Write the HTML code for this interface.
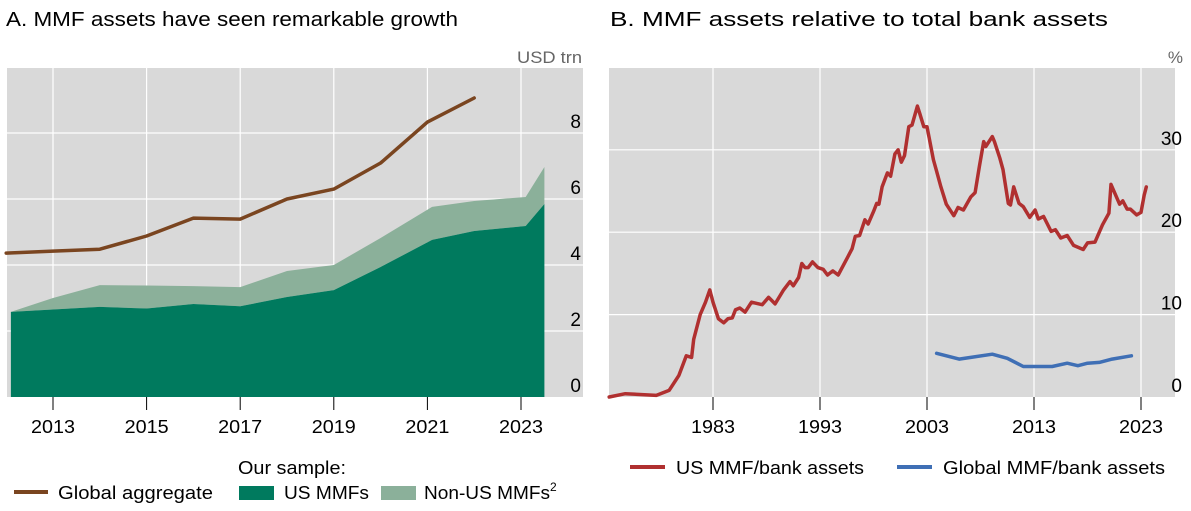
<!DOCTYPE html>
<html><head><meta charset="utf-8"><style>
body{margin:0;background:#fff;width:1191px;height:511px;overflow:hidden}
svg{display:block;font-family:"Liberation Sans","DejaVu Sans",sans-serif}
</style></head><body>
<svg id="c" width="1191" height="511" viewBox="0 0 1191 511">
<text x="6" y="26" font-size="20" textLength="452" lengthAdjust="spacingAndGlyphs" fill="#000">A. MMF assets have seen remarkable growth</text>
<text x="610" y="26" font-size="20" textLength="498" lengthAdjust="spacingAndGlyphs" fill="#000">B. MMF assets relative to total bank assets</text>
<text x="517" y="63" font-size="17" textLength="65" lengthAdjust="spacingAndGlyphs" fill="#666">USD trn</text>
<text x="1183" y="63" font-size="17" fill="#666" text-anchor="end">%</text>
<rect x="7" y="68" width="576" height="329" fill="#d9d9d9"/>
<rect x="609" y="68" width="566" height="329" fill="#d9d9d9"/>
<g id="ga"></g><g id="gb"></g>
<text x="238" y="474" font-size="18" textLength="108" lengthAdjust="spacingAndGlyphs">Our sample:</text>
<line x1="14" y1="492" x2="48" y2="492" stroke="#7a4520" stroke-width="4"/>
<text x="58" y="499" font-size="18" textLength="155" lengthAdjust="spacingAndGlyphs">Global aggregate</text>
<rect x="239" y="486" width="35" height="14" fill="#007a5e"/>
<text x="284" y="499" font-size="18" textLength="85" lengthAdjust="spacingAndGlyphs">US MMFs</text>
<rect x="381" y="486" width="35" height="14" fill="#8bb09a"/>
<text x="424" y="499" font-size="18"><tspan textLength="126" lengthAdjust="spacingAndGlyphs">Non-US MMFs</tspan><tspan font-size="12" dy="-8">2</tspan></text>
<line x1="630" y1="467" x2="665" y2="467" stroke="#b03030" stroke-width="4"/>
<text x="676" y="474" font-size="18" textLength="188" lengthAdjust="spacingAndGlyphs">US MMF/bank assets</text>
<line x1="897" y1="467" x2="932" y2="467" stroke="#3f6fb5" stroke-width="4"/>
<text x="943" y="474" font-size="18" textLength="222" lengthAdjust="spacingAndGlyphs">Global MMF/bank assets</text>
</svg>
<script>
// Panel A data
const aYearsGlobal=[2012.0,2013,2014,2015,2016,2017,2018,2019,2020,2021,2022];
const aGlobal=[4.36,4.42,4.48,4.88,5.42,5.39,6.0,6.3,7.09,8.33,9.06];
const aYearsSample=[2012.1,2013,2014,2015,2016,2017,2018,2019,2020,2021.1,2022,2023.1,2023.5];
const aUS=[2.58,2.65,2.73,2.68,2.82,2.75,3.03,3.24,3.94,4.76,5.03,5.18,5.85];
const aTotal=[2.58,3.0,3.39,3.38,3.36,3.33,3.82,4.0,4.82,5.76,5.94,6.06,6.97];
const aYTicks=[0,2,4,6,8];
const aXTicks=[2013,2015,2017,2019,2021,2023];
// Panel B data
const bYearsUS=[1973.3,1974.8,1977.7,1978.9,1979.8,1980.5,1981,1981.2,1981.8,1982.3,1982.7,1983,1983.5,1984,1984.4,1984.8,1985.1,1985.5,1986,1986.6,1987.6,1988.2,1988.8,1989.6,1990.2,1990.5,1991,1991.3,1991.6,1991.9,1992.3,1992.8,1993.3,1993.7,1994.2,1994.7,1995.6,1996,1996.3,1996.7,1997.2,1997.5,1998,1998.3,1998.5,1998.8,1999.3,1999.6,2000,2000.3,2000.6,2000.9,2001.3,2001.6,2002.1,2002.3,2002.7,2003,2003.6,2003.9,2004.3,2004.8,2005.5,2005.9,2006.4,2007.1,2007.5,2007.9,2008.3,2008.5,2009.1,2009.3,2009.8,2010.1,2010.6,2010.8,2011.1,2011.6,2012,2012.6,2013.1,2013.4,2013.9,2014.6,2015,2015.5,2016.1,2016.7,2017.6,2018,2018.7,2019.4,2020,2020.2,2021,2021.3,2021.7,2022,2022.6,2023,2023.3,2023.5];
const bUS=[0,0.4,0.2,0.8,2.6,5,4.8,7,10,11.5,13,11.5,9.5,9,9.5,9.6,10.6,10.8,10.3,11.5,11.2,12.1,11.3,13,14,13.5,14.5,16.2,15.7,15.7,16.4,15.7,15.5,14.8,15.3,14.8,17,18,19.5,19.6,21.5,21,22.5,23.5,23.4,25.5,27.2,26.8,29.5,30,28.5,29.3,32.8,33,35.3,34.5,32.8,32.8,28.8,27.4,25.5,23.4,22,23,22.7,24.3,24.8,28,31,30.4,31.6,31,29,27.6,23.5,23.3,25.5,23.5,23.1,21.8,22.7,21.6,21.9,20.1,20.3,19.3,19.6,18.4,17.9,18.7,18.8,20.9,22.3,25.8,23.4,23.8,22.8,22.8,22.1,22.4,24.5,25.5];
const bYearsGlobal=[2003.9,2006,2007.1,2009.1,2010.5,2012,2014.7,2016.1,2017.1,2018,2019.1,2020.3,2022.1];
const bGlobal=[5.3,4.6,4.8,5.2,4.7,3.7,3.7,4.1,3.8,4.1,4.2,4.6,5.0];
const bYTicks=[0,10,20,30];
const bXTicks=[1983,1993,2003,2013,2023];

const NS="http://www.w3.org/2000/svg";
function mk(tag,attrs,parent){const e=document.createElementNS(NS,tag);for(const k in attrs)e.setAttribute(k,attrs[k]);parent.appendChild(e);return e;}
const ga=document.getElementById('ga'), gb=document.getElementById('gb');
const axA=y=>53+(y-2013)*46.8, ayA=v=>397-33*v;
const axB=y=>713+(y-1983)*10.7, ayB=v=>397-8.24*v;

aXTicks.forEach(t=>{
 const l=mk('line',{x1:axA(t),x2:axA(t),y1:68,y2:397,stroke:'#fff','stroke-width':1.2},ga);
 
 
 const tk=mk('line',{x1:axA(t),x2:axA(t),y1:397,y2:410,stroke:'#000','stroke-width':1},ga);
 
 
 const tx=mk('text',{x:axA(t),y:433,'font-size':18,'text-anchor':'middle',textLength:44,lengthAdjust:'spacingAndGlyphs'},ga);tx.textContent=t;
 
 
});
aYTicks.forEach(t=>{
 if(t>0){const l=mk('line',{x1:7,x2:583,y1:ayA(t),y2:ayA(t),stroke:'#fff','stroke-width':1.2},ga);
 
 }
 const tx=mk('text',{x:581,y:ayA(t)-5,'font-size':19,'text-anchor':'end'},ga);tx.textContent=t;
 
 
});
function areaPath(xs,top,bot,fx,fy){let d='';xs.forEach((x,i)=>{d+=(i?'L':'M')+fx(x)+','+fy(top[i]);});for(let i=xs.length-1;i>=0;i--)d+='L'+fx(xs[i])+','+fy(bot?bot[i]:0);return d+'Z';}
const nonUS=mk('path',{d:areaPath(aYearsSample,aTotal,aUS,axA,ayA),fill:'#8bb09a'},ga);


const us=mk('path',{d:areaPath(aYearsSample,aUS,null,axA,ayA),fill:'#007a5e'},ga);


function line(xs,vs,fx,fy){return xs.map((x,i)=>(i?'L':'M')+fx(x).toFixed(1)+','+fy(vs[i]).toFixed(1)).join('');}
const gl=mk('path',{d:line(aYearsGlobal,aGlobal,axA,ayA),fill:'none',stroke:'#7a4520','stroke-width':3.5,'stroke-linejoin':'round','stroke-linecap':'round'},ga);



bXTicks.forEach(t=>{
 const l=mk('line',{x1:axB(t),x2:axB(t),y1:68,y2:397,stroke:'#fff','stroke-width':1.2},gb);
 
 
 const tk=mk('line',{x1:axB(t),x2:axB(t),y1:397,y2:410,stroke:'#000','stroke-width':1},gb);
 
 
 const tx=mk('text',{x:axB(t),y:433,'font-size':18,'text-anchor':'middle',textLength:44,lengthAdjust:'spacingAndGlyphs'},gb);tx.textContent=t;
 
 
});
bYTicks.forEach(t=>{
 if(t>0){const l=mk('line',{x1:609,x2:1175,y1:ayB(t),y2:ayB(t),stroke:'#fff','stroke-width':1.2},gb);
 
 }
 const tx=mk('text',{x:1182,y:ayB(t)-5,'font-size':19,'text-anchor':'end'},gb);tx.textContent=t;
 
 
});
const rl=mk('path',{d:line(bYearsUS,bUS,axB,ayB),fill:'none',stroke:'#b03030','stroke-width':3.5,'stroke-linejoin':'round','stroke-linecap':'round'},gb);


const bl=mk('path',{d:line(bYearsGlobal,bGlobal,axB,ayB),fill:'none',stroke:'#3f6fb5','stroke-width':3.5,'stroke-linejoin':'round','stroke-linecap':'round'},gb);


</script>
</body></html>
